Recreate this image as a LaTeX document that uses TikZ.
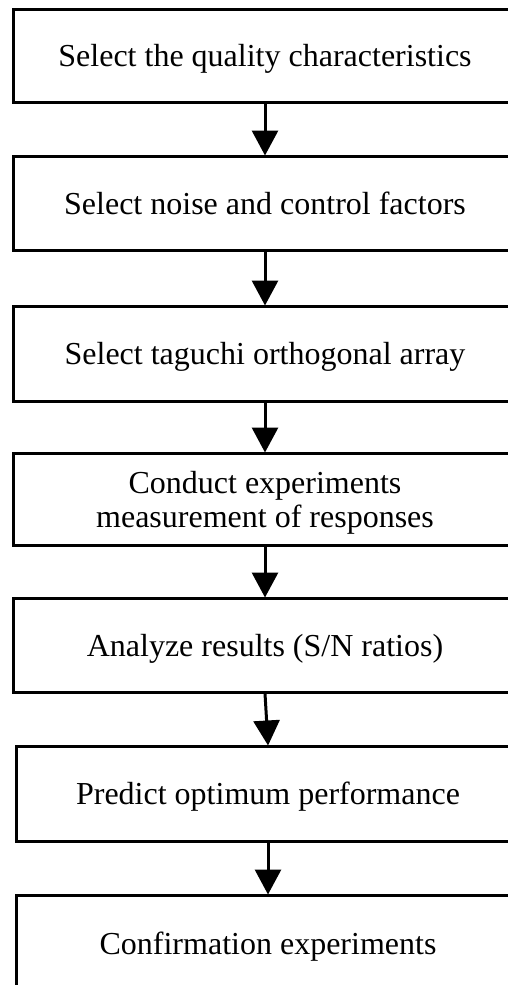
\documentclass[tikz,border=0pt]{standalone}
\usepackage{fontspec}
\setmainfont{Liberation Serif}
\usetikzlibrary{arrows.meta}
\begin{document}
\begin{tikzpicture}[x=1pt,y=-1pt,
  stepbox/.style={draw=black, line width=3pt, fill=white, inner sep=0pt,
    minimum width=504pt, align=center, text depth=0pt,
    font=\fontsize{32}{34}\selectfont},
  flow/.style={draw=black, line width=3pt,
    -{Triangle[width=26pt,length=25pt]}, shorten >=-1pt}]
  \useasboundingbox (0,0) rectangle (508,985);
  \clip (0,0) rectangle (508,985);
  \fill[white] (0,0) rectangle (508,985);

  \node[stepbox, minimum height=93pt] (b1) at (265,55.5) {Select the quality characteristics};
  \node[stepbox, minimum height=94pt] (b2) at (265,203) {Select noise and control factors};
  \node[stepbox, minimum height=95pt] (b3) at (265,353.5) {Select taguchi orthogonal array};
  \node[stepbox, minimum height=92pt] (b4) at (265,499) {Conduct experiments\\measurement of responses};
  \node[stepbox, minimum height=94pt] (b5) at (265,645) {Analyze results (S/N ratios)};
  \node[stepbox, minimum height=95pt] (b6) at (268,793.5) {Predict optimum performance};
  \node[stepbox, minimum height=96pt] (b7) at (268,943) {Confirmation experiments};

  \draw[flow] (b1.south) -- (b2.north);
  \draw[flow] (b2.south) -- (b3.north);
  \draw[flow] (b3.south) -- (b4.north);
  \draw[flow] (b4.south) -- (b5.north);
  \draw[flow] (b5.south) -- (b6.north);
  \draw[flow] (b6.south) -- (b7.north);
\end{tikzpicture}
\end{document}
